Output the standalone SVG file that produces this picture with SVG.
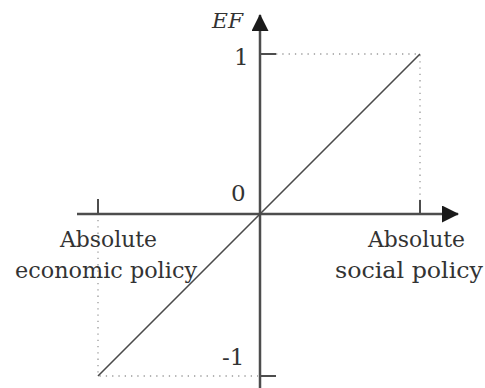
<svg xmlns="http://www.w3.org/2000/svg" width="485" height="388" viewBox="0 0 485 388">
<style>
.axis{stroke:#4d4d4d;stroke-width:2.5;fill:none}
.tick{stroke:#4d4d4d;stroke-width:2;fill:none}
.dot{stroke:#9a9a9a;stroke-width:1.3;stroke-dasharray:1.3,5;fill:none}
.diag{stroke:#4a4a4a;stroke-width:1.6;fill:none}
.lbl{font-family:'DejaVu Serif','Liberation Serif',serif;fill:#333333;font-size:23px}
</style>
<defs>
<marker id="ah" markerWidth="17" markerHeight="17" refX="16" refY="8.5" orient="auto" markerUnits="userSpaceOnUse">
<path d="M0,0 L17,8.5 L0,17 Z" fill="#1a1a1a"/>
</marker>
</defs>
<rect width="485" height="388" fill="#ffffff"/>
<g id="guides">
<path class="dot" d="M276,54 H420 V200"/>
<path class="dot" d="M98,220 V376 H258"/>
</g>
<g id="connectors">
<line id="x-axis" class="axis" x1="77" y1="214" x2="458" y2="214" marker-end="url(#ah)"/>
<line id="y-axis" class="axis" x1="260" y1="388" x2="260" y2="15" marker-end="url(#ah)"/>
<line id="tick-1" class="tick" x1="260" y1="54" x2="276" y2="54"/>
<line id="tick-m1" class="tick" x1="260" y1="376" x2="276" y2="376"/>
<line id="tick-left" class="tick" x1="98" y1="199" x2="98" y2="214"/>
<line id="tick-right" class="tick" x1="420" y1="200" x2="420" y2="214"/>
<line id="diagonal" class="diag" x1="98" y1="376" x2="420" y2="54"/>
</g>
<g id="label-ef"><text class="lbl" x="212" y="28" font-style="italic" style="font-size:21px" textLength="31" lengthAdjust="spacingAndGlyphs">EF</text></g>
<g id="label-1"><text class="lbl" x="234" y="65">1</text></g>
<g id="label-0"><text class="lbl" x="231" y="201">0</text></g>
<g id="label-m1"><text class="lbl" x="222" y="365">-1</text></g>
<g id="node-economic">
<text class="lbl" x="60" y="247" textLength="97" lengthAdjust="spacingAndGlyphs">Absolute</text>
<text class="lbl" x="15" y="278" textLength="182" lengthAdjust="spacingAndGlyphs">economic policy</text>
</g>
<g id="node-social">
<text class="lbl" x="368" y="247" textLength="97" lengthAdjust="spacingAndGlyphs">Absolute</text>
<text class="lbl" x="335" y="278" textLength="148" lengthAdjust="spacingAndGlyphs">social policy</text>
</g>
</svg>
